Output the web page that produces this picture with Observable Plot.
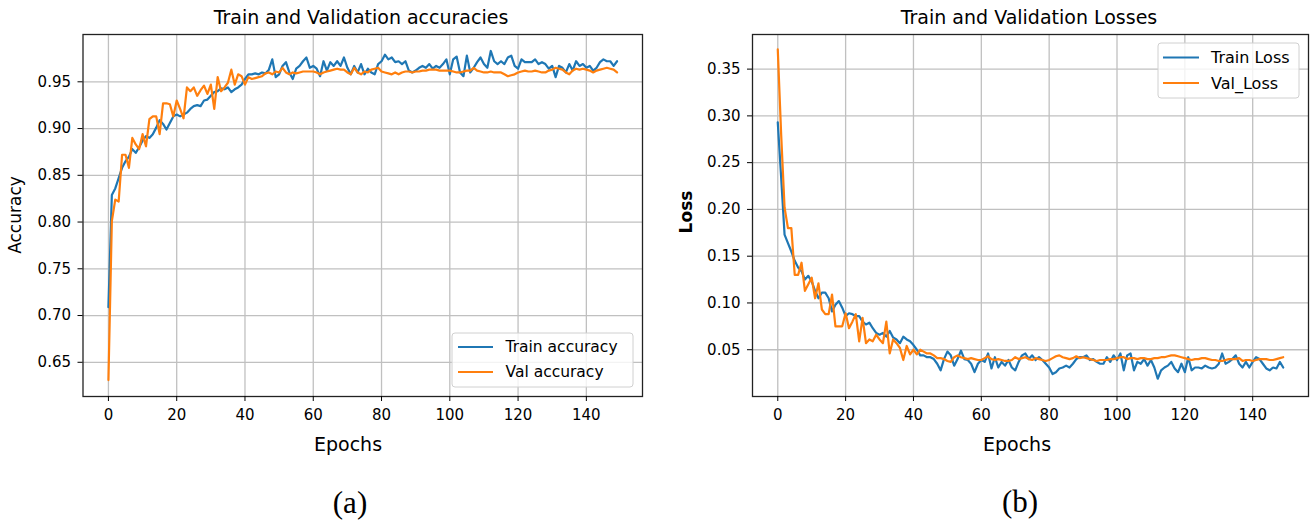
<!DOCTYPE html>
<html>
<head>
<meta charset="utf-8">
<script src="https://cdn.jsdelivr.net/npm/d3@7"></script>
<script src="https://cdn.jsdelivr.net/npm/@observablehq/plot@0.6"></script>
<style>
  html, body { margin: 0; padding: 0; background: #fff; }
  #wrap { position: relative; width: 1311px; height: 521px; overflow: hidden; background: #fff; }
  #wrap > svg { position: absolute; }
</style>
</head>
<body>
<div id="wrap"></div>
<script>
// ---- data ----
const trainAcc = [
  0.709,0.829,0.836,0.847,0.858,0.865,0.870,0.878,0.874,0.880,
  0.887,0.892,0.890,0.894,0.901,0.909,0.905,0.899,0.906,0.913,
  0.915,0.913,0.915,0.917,0.921,0.924,0.925,0.924,0.930,0.931,
  0.935,0.939,0.940,0.943,0.942,0.944,0.939,0.942,0.944,0.947,
  0.953,0.958,0.958,0.959,0.958,0.960,0.959,0.963,0.974,0.955,
  0.958,0.967,0.971,0.960,0.953,0.964,0.967,0.972,0.976,0.965,
  0.967,0.964,0.956,0.972,0.962,0.971,0.967,0.972,0.967,0.976,
  0.965,0.958,0.967,0.960,0.969,0.958,0.964,0.960,0.958,0.969,
  0.972,0.979,0.974,0.976,0.971,0.972,0.969,0.972,0.962,0.960,
  0.962,0.965,0.967,0.965,0.969,0.964,0.967,0.965,0.969,0.974,
  0.958,0.974,0.977,0.960,0.956,0.978,0.960,0.965,0.971,0.976,
  0.969,0.965,0.983,0.972,0.969,0.972,0.969,0.976,0.978,0.967,
  0.964,0.974,0.971,0.971,0.971,0.974,0.969,0.971,0.969,0.964,
  0.967,0.955,0.967,0.965,0.960,0.969,0.962,0.972,0.967,0.969,
  0.965,0.967,0.962,0.965,0.971,0.974,0.972,0.972,0.967,0.972
];
const valAcc = [
  0.631,0.801,0.824,0.822,0.872,0.872,0.858,0.890,0.883,0.878,
  0.894,0.881,0.910,0.913,0.913,0.894,0.927,0.927,0.926,0.913,
  0.930,0.921,0.911,0.944,0.940,0.944,0.935,0.941,0.946,0.937,
  0.947,0.921,0.955,0.940,0.944,0.949,0.963,0.947,0.958,0.956,
  0.947,0.955,0.953,0.954,0.955,0.956,0.959,0.960,0.958,0.961,
  0.960,0.965,0.960,0.958,0.960,0.959,0.960,0.961,0.961,0.961,
  0.961,0.960,0.958,0.960,0.961,0.962,0.963,0.964,0.963,0.963,
  0.960,0.958,0.965,0.960,0.958,0.961,0.960,0.963,0.964,0.965,
  0.961,0.960,0.959,0.958,0.960,0.958,0.960,0.961,0.961,0.960,
  0.961,0.961,0.962,0.962,0.963,0.963,0.963,0.962,0.962,0.962,
  0.962,0.961,0.960,0.960,0.961,0.962,0.962,0.965,0.962,0.961,
  0.960,0.960,0.961,0.960,0.960,0.960,0.958,0.956,0.957,0.958,
  0.960,0.961,0.962,0.961,0.961,0.962,0.961,0.960,0.960,0.962,
  0.963,0.965,0.964,0.963,0.960,0.958,0.962,0.964,0.963,0.964,
  0.963,0.962,0.960,0.962,0.963,0.964,0.965,0.964,0.963,0.960
];
const trainLoss = [
  0.293,0.234,0.173,0.164,0.155,0.145,0.138,0.134,0.125,0.129,
  0.123,0.113,0.105,0.111,0.111,0.105,0.091,0.098,0.102,0.095,
  0.086,0.089,0.088,0.086,0.086,0.080,0.077,0.079,0.073,0.068,
  0.066,0.068,0.064,0.070,0.063,0.061,0.057,0.064,0.061,0.059,
  0.055,0.050,0.044,0.044,0.042,0.042,0.040,0.035,0.028,0.040,
  0.048,0.044,0.033,0.040,0.049,0.040,0.039,0.035,0.026,0.035,
  0.039,0.037,0.046,0.030,0.042,0.031,0.037,0.033,0.039,0.031,
  0.028,0.037,0.044,0.046,0.040,0.044,0.039,0.042,0.039,0.035,
  0.031,0.024,0.026,0.030,0.031,0.033,0.031,0.035,0.040,0.042,
  0.042,0.044,0.039,0.040,0.037,0.035,0.035,0.042,0.037,0.044,
  0.039,0.046,0.028,0.044,0.046,0.028,0.037,0.035,0.040,0.033,
  0.039,0.031,0.019,0.028,0.031,0.033,0.037,0.030,0.026,0.035,
  0.026,0.042,0.028,0.031,0.031,0.030,0.033,0.031,0.030,0.031,
  0.035,0.046,0.035,0.037,0.040,0.044,0.035,0.031,0.037,0.031,
  0.037,0.042,0.040,0.035,0.030,0.028,0.031,0.030,0.037,0.031
];
const valLoss = [
  0.371,0.280,0.202,0.180,0.180,0.130,0.130,0.143,0.113,0.120,
  0.127,0.105,0.121,0.093,0.088,0.088,0.109,0.075,0.075,0.075,
  0.089,0.073,0.080,0.088,0.059,0.084,0.057,0.061,0.059,0.066,
  0.061,0.057,0.080,0.046,0.061,0.057,0.052,0.039,0.054,0.045,
  0.050,0.045,0.050,0.048,0.046,0.046,0.044,0.041,0.041,0.040,
  0.038,0.037,0.042,0.044,0.042,0.041,0.040,0.041,0.040,0.039,
  0.039,0.041,0.043,0.040,0.039,0.040,0.039,0.038,0.038,0.039,
  0.042,0.040,0.041,0.042,0.040,0.039,0.041,0.040,0.039,0.038,
  0.039,0.041,0.043,0.044,0.042,0.041,0.040,0.041,0.043,0.041,
  0.042,0.041,0.040,0.039,0.038,0.039,0.039,0.039,0.040,0.040,
  0.041,0.042,0.042,0.040,0.041,0.041,0.040,0.041,0.041,0.040,
  0.040,0.041,0.041,0.042,0.042,0.043,0.044,0.044,0.043,0.042,
  0.041,0.040,0.039,0.040,0.040,0.041,0.041,0.040,0.039,0.039,
  0.038,0.038,0.039,0.040,0.040,0.040,0.041,0.038,0.039,0.039,
  0.038,0.039,0.040,0.040,0.040,0.039,0.039,0.040,0.041,0.042
];
const epochTicks = [0, 20, 40, 60, 80, 100, 120, 140];
const accTicks = [0.65, 0.70, 0.75, 0.80, 0.85, 0.90, 0.95];
const lossTicks = [0.05, 0.10, 0.15, 0.20, 0.25, 0.30, 0.35];
const accLegend = ["Train accuracy", "Val accuracy"];
const lossLegend = ["Train Loss", "Val_Loss"];
const colors = ["#1f77b4", "#ff7f0e"];

// ---- charts ----
const wrap = document.getElementById("wrap");
const F = "'DejaVu Sans', sans-serif";

function chart(series, yDomain, yTicks, opts) {
  const marks = [
    Plot.gridX(epochTicks, {stroke: "#c0c0c0", strokeOpacity: 1, strokeWidth: 1.3}),
    Plot.gridY(yTicks, {stroke: "#c0c0c0", strokeOpacity: 1, strokeWidth: 1.3}),
  ];
  series.forEach((s, k) => {
    marks.push(Plot.lineY(s, {x: (d, i) => i, y: d => d, stroke: colors[k], strokeWidth: 2.2}));
  });
  marks.push(Plot.frame({stroke: "#222", strokeWidth: 1.3}));
  marks.push(Plot.axisX(epochTicks, {tickSize: 5, tickPadding: 8, label: null, fontSize: 15}));
  marks.push(Plot.axisY(yTicks, {tickSize: 5, tickPadding: 7, label: null, tickFormat: d3.format(".2f"), fontSize: 15}));
  return Plot.plot({
    width: opts.width, height: opts.height,
    marginLeft: opts.ml, marginRight: opts.mr, marginTop: 10, marginBottom: opts.height - 10 - 362,
    style: {fontFamily: F, fontSize: "15px", color: "#000", background: "transparent", overflow: "visible"},
    x: {domain: [-7.45, 156.45]},
    y: {domain: yDomain},
    marks
  });
}

const left = chart([trainAcc, valAcc], [0.6134, 1.0006], accTicks, {width: 655, height: 432, ml: 82.5, mr: 13});
left.style.left = "0px"; left.style.top = "24px";
wrap.appendChild(left);

const right = chart([trainLoss, valLoss], [0, 0.387], lossTicks, {width: 641, height: 432, ml: 82, mr: 3});
right.style.left = "670px"; right.style.top = "24px";
wrap.appendChild(right);

// ---- annotations overlay ----
const ov = d3.create("svg").attr("width", 1311).attr("height", 521)
  .style("left", "0px").style("top", "0px").style("pointer-events", "none")
  .attr("font-family", F);

function txt(x, y, s, size, extra) {
  const t = ov.append("text").attr("x", x).attr("y", y).attr("text-anchor", "middle")
    .attr("dominant-baseline", "central").attr("font-size", size).attr("fill", "#000").text(s);
  if (extra) extra(t);
  return t;
}
txt(361, 17, "Train and Validation accuracies", 19);
txt(1029, 17, "Train and Validation Losses", 19);
txt(348, 444, "Epochs", 19);
txt(1017, 444, "Epochs", 19);
txt(15, 215, "Accuracy", 17, t => t.attr("transform", "rotate(-90 15 215)"));
txt(686, 212, "Loss", 17, t => t.attr("transform", "rotate(-90 686 212)").attr("font-weight", "bold"));
txt(350, 502, "(a)", 31, t => t.attr("font-family", "'Liberation Serif', 'Times New Roman', serif"));
txt(1020, 501, "(b)", 31, t => t.attr("font-family", "'Liberation Serif', 'Times New Roman', serif"));

function legend(x, y, w, h, labels, lx0, lx1, tx, ys, size) {
  ov.append("rect").attr("x", x).attr("y", y).attr("width", w).attr("height", h).attr("rx", 3)
    .attr("fill", "#fff").attr("fill-opacity", 0.8).attr("stroke", "#d0d0d0").attr("stroke-width", 1);
  labels.forEach((lab, k) => {
    ov.append("line").attr("x1", lx0).attr("x2", lx1).attr("y1", ys[k]).attr("y2", ys[k])
      .attr("stroke", colors[k]).attr("stroke-width", 2.2);
    ov.append("text").attr("x", tx).attr("y", ys[k]).attr("dominant-baseline", "central")
      .attr("font-size", size).attr("fill", "#000").text(lab);
  });
}
legend(452, 333, 181, 54, accLegend, 458, 493, 505.5, [347, 372], 15.5);
legend(1158, 43, 141, 55, lossLegend, 1163, 1199, 1211, [57.5, 83], 16);

wrap.appendChild(ov.node());
</script>
</body>
</html>
